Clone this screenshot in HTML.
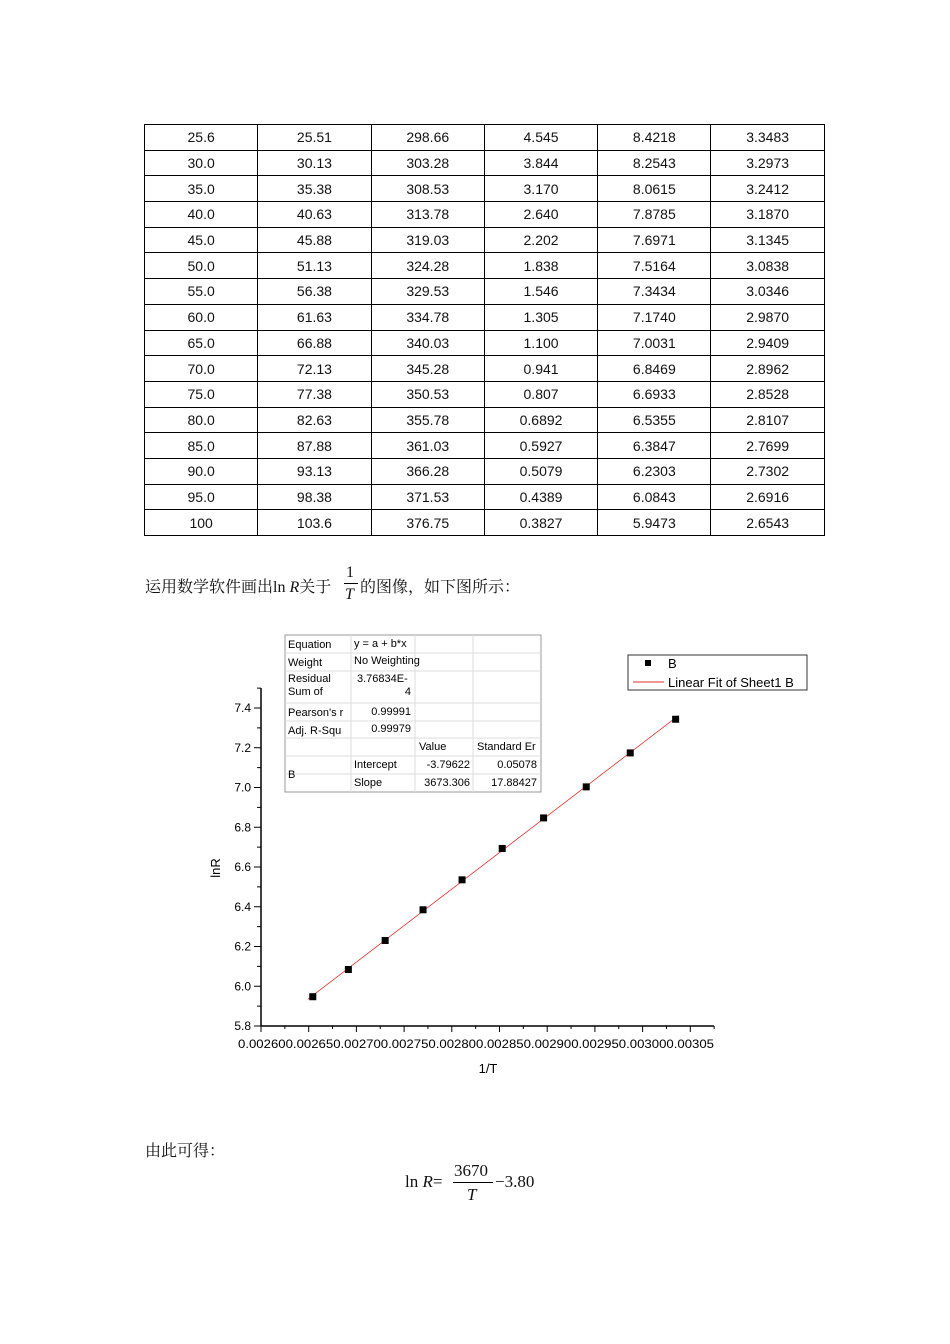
<!DOCTYPE html>
<html><head><meta charset="utf-8"><style>
body{margin:0;width:950px;height:1344px;background:#fff;position:relative;font-family:"Liberation Sans","Noto Sans CJK SC",sans-serif;}
table{position:absolute;left:144px;top:124px;border-collapse:collapse;}
td{border:1px solid #000;width:112.3px;height:24.7px;padding:0;text-align:center;font-size:14px;color:#111;}
.t{position:absolute;font-family:"Liberation Serif","Noto Serif CJK SC",serif;font-size:16px;color:#111;white-space:nowrap;}
</style></head><body>
<table id="tb"></table>
<div class="t" style="left:145px;top:574px;">运用数学软件画出ln <i>R</i>关于</div>
<div class="t" style="left:346px;top:564px;">1</div>
<div style="position:absolute;left:344px;top:583px;width:14px;border-top:1px solid #000"></div>
<div class="t" style="left:345px;top:586px;"><i>T</i></div>
<div class="t" style="left:360px;top:574px;">的图像，如下图所示：</div>
<svg id="ch" style="position:absolute;left:0;top:0" width="950" height="1344" font-family="Liberation Sans, Arial, sans-serif"></svg>
<div class="t" style="left:145px;top:1138px;">由此可得：</div>
<div class="t" style="left:405px;top:1172px;font-size:17px;">ln <i>R</i>=</div>
<div class="t" style="left:454px;top:1161px;font-size:17px;">3670</div>
<div style="position:absolute;left:453px;top:1182px;width:40px;border-top:1px solid #000"></div>
<div class="t" style="left:467px;top:1185px;font-size:17px;"><i>T</i></div>
<div class="t" style="left:495px;top:1172px;font-size:17px;">−3.80</div>
<script>
var d=[[25.6,25.51,298.66,4.545,8.4218,3.3483],["30.0",30.13,303.28,3.844,8.2543,3.2973],["35.0",35.38,308.53,"3.170",8.0615,3.2412],["40.0",40.63,313.78,"2.640",7.8785,"3.1870"],["45.0",45.88,319.03,2.202,7.6971,3.1345],["50.0",51.13,324.28,1.838,7.5164,3.0838],["55.0",56.38,329.53,1.546,7.3434,3.0346],["60.0",61.63,334.78,1.305,"7.1740","2.9870"],["65.0",66.88,340.03,"1.100",7.0031,2.9409],["70.0",72.13,345.28,0.941,6.8469,2.8962],["75.0",77.38,350.53,0.807,6.6933,2.8528],["80.0",82.63,355.78,0.6892,6.5355,2.8107],["85.0",87.88,361.03,0.5927,6.3847,2.7699],["90.0",93.13,366.28,0.5079,6.2303,2.7302],["95.0",98.38,371.53,0.4389,6.0843,2.6916],[100,103.6,376.75,0.3827,5.9473,2.6543]];
var h="";d.forEach(function(r){h+="<tr>"+r.map(function(c){return"<td>"+c+"</td>"}).join("")+"</tr>"});
document.getElementById("tb").innerHTML=h;
var K=47.7;
function X(v){return 261+(v-0.0026)/0.00005*K}function Y(v){return 1026-(v-5.8)/0.2*39.75}
var s="";
s+='<line x1="261" y1="688" x2="261" y2="1026" stroke="#000" stroke-width="1.5"/><line x1="261" y1="1026" x2="714" y2="1026" stroke="#000" stroke-width="1.5"/>';
for(var i=0;i<=17;i++){var y=Y(5.8+i*0.1);var mj=i%2==0;s+='<line x1="'+(mj?254:257)+'" y1="'+y+'" x2="261" y2="'+y+'" stroke="#000"/>';if(mj)s+='<text x="251" y="'+(y+4)+'" font-size="12" text-anchor="end">'+(5.8+i*0.1).toFixed(1)+'</text>';}
for(var i=0;i<=19;i++){var x=261+i*K/2;if(x>715)break;var mj=i%2==0;s+='<line x1="'+x+'" y1="1026" x2="'+x+'" y2="'+(mj?1032:1029)+'" stroke="#000"/>';}
s+='<text x="476" y="1048" font-size="12" text-anchor="middle" textLength="476" lengthAdjust="spacingAndGlyphs">0.002600.002650.002700.002750.002800.002850.002900.002950.003000.00305</text>';
s+='<text x="488" y="1073" font-size="13" text-anchor="middle">1/T</text>';
s+='<text transform="translate(220,868) rotate(-90)" font-size="13" text-anchor="middle">lnR</text>';
var T=[376.75,371.53,366.28,361.03,355.78,350.53,345.28,340.03,334.78,329.53],L=[5.9473,6.0843,6.2303,6.3847,6.5355,6.6933,6.8469,7.0031,7.1740,7.3434];
var x1=1/377.5,x2=1/329.2;s+='<line x1="'+X(x1)+'" y1="'+Y(-3.79622+3673.306*x1)+'" x2="'+X(x2)+'" y2="'+Y(-3.79622+3673.306*x2)+'" stroke="#e03030" stroke-width="0.8"/>';
for(var i=0;i<10;i++){s+='<rect x="'+(X(1/T[i])-3.5)+'" y="'+(Y(L[i])-3.5)+'" width="7" height="7" fill="#000"/>';}
s+='<rect x="285" y="635" width="256" height="157" fill="#fff" stroke="#999"/>';
[653,671,703,721,738,756,774].forEach(function(y){s+='<line x1="285" x2="541" y1="'+y+'" y2="'+y+'" stroke="#ddd"/>'});
[351,415,473].forEach(function(x){s+='<line x1="'+x+'" x2="'+x+'" y1="635" y2="792" stroke="#ddd"/>'});
function t(x,y,str,a){s+='<text x="'+x+'" y="'+y+'" font-size="11" '+(a?'text-anchor="end"':'')+'>'+str+'</text>'}
t(288,648,"Equation");t(354,647,"y = a + b*x");t(288,666,"Weight");t(354,664,"No Weighting");t(288,682,"Residual");t(357,682,"3.76834E-");t(288,695,"Sum of");t(411,695,"4",1);
t(288,716,"Pearson's r");t(411,715,"0.99991",1);t(288,734,"Adj. R-Squ");t(411,732,"0.99979",1);t(419,750,"Value");t(477,750,"Standard Er");
t(288,778,"B");t(354,768,"Intercept");t(470,768,"-3.79622",1);t(537,768,"0.05078",1);t(354,786,"Slope");t(470,786,"3673.306",1);t(537,786,"17.88427",1);
s+='<rect x="628" y="655" width="179" height="35" fill="#fff" stroke="#333"/><rect x="645" y="660" width="6" height="6" fill="#000"/>';
s+='<text x="668" y="668" font-size="13">B</text><line x1="633" x2="664" y1="682" y2="682" stroke="#e03030"/><text x="668" y="687" font-size="13">Linear Fit of Sheet1 B</text>';
document.getElementById("ch").innerHTML=s;
</script>
</body></html>
